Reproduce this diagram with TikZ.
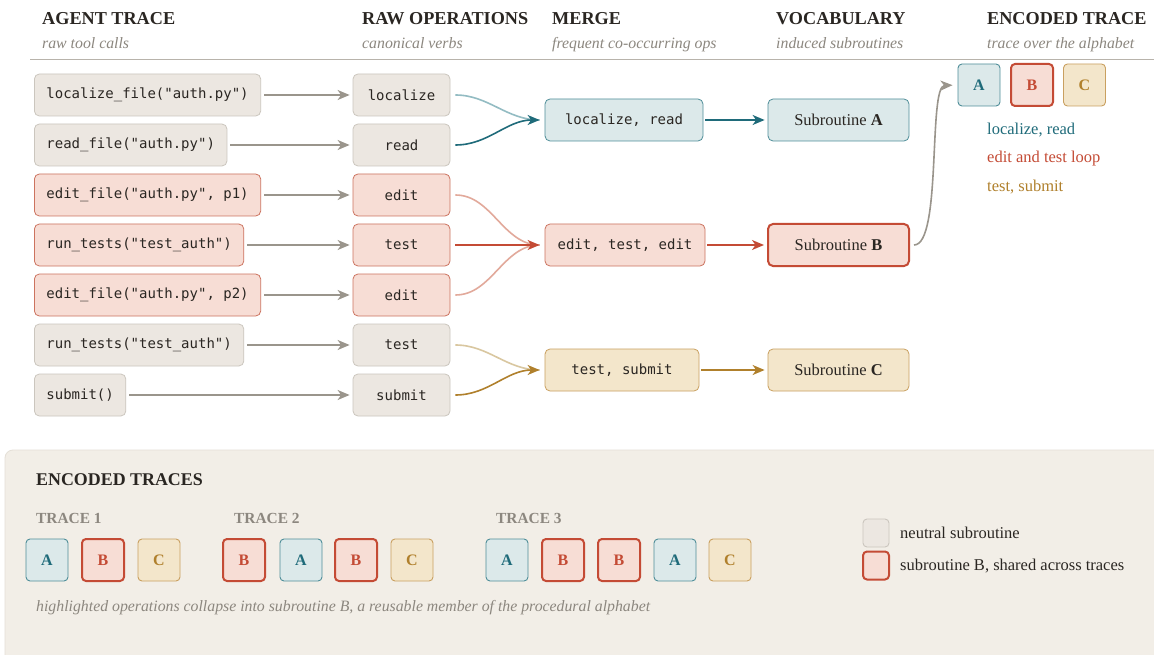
\documentclass[tikz,border=0pt]{standalone}
\usepackage{fontspec}
\setmainfont{Liberation Serif}
\setmonofont{DejaVu Sans Mono}
\usetikzlibrary{arrows.meta}
\definecolor{ink}{HTML}{2A2622}
\definecolor{subgray}{HTML}{8C877F}
\definecolor{rulegray}{HTML}{B8B3AB}
\definecolor{neuF}{HTML}{ECE7E1}
\definecolor{neuD}{HTML}{CBC6BE}
\definecolor{tealF}{HTML}{DCE9EA}
\definecolor{tealD}{HTML}{4F8E99}
\definecolor{tealT}{HTML}{1F6B7A}
\definecolor{tealL}{HTML}{93BCC3}
\definecolor{redF}{HTML}{F7DDD5}
\definecolor{redD}{HTML}{CC735F}
\definecolor{redT}{HTML}{C44B35}
\definecolor{redL}{HTML}{E2A99B}
\definecolor{tanF}{HTML}{F3E6CB}
\definecolor{tanD}{HTML}{C9A060}
\definecolor{tanT}{HTML}{B0802C}
\definecolor{tanL}{HTML}{D9C7A0}
\definecolor{arrgray}{HTML}{9A958C}
\definecolor{panelF}{HTML}{F2EEE7}
\definecolor{panelD}{HTML}{E4DFD7}
\begin{document}
\begin{tikzpicture}[x=1pt,y=-1pt,
  box/.style={draw, rounded corners=5pt, line width=0.8pt, minimum height=42pt,
    font=\ttfamily\fontsize{14}{16}\selectfont, text=ink, inner xsep=12pt, inner ysep=0pt},
  neu/.style={box, fill=neuF, draw=neuD},
  redbox/.style={box, fill=redF, draw=redD},
  tealbox/.style={box, fill=tealF, draw=tealD},
  tanbox/.style={box, fill=tanF, draw=tanD},
  call/.style={anchor=west},
  op/.style={minimum width=97pt},
  voc/.style={font=\fontsize{16.5}{19}\selectfont, minimum width=141pt},
  hdr/.style={anchor=base west, inner sep=0pt, text=ink, font=\bfseries\fontsize{18.2}{21}\selectfont},
  subt/.style={anchor=base west, inner sep=0pt, text=subgray, font=\itshape\fontsize{15.8}{18}\selectfont},
  garrow/.style={draw=arrgray, line width=1.4pt, -{Stealth[length=12pt,width=10pt,inset=3.5pt]}, shorten <=3pt, shorten >=3pt},
  curve/.style={line width=1.6pt, shorten <=5pt, shorten >=5pt},
  tip/.style={-{Stealth[length=12pt,width=10pt,inset=3.5pt]}},
  sq/.style={rounded corners=4pt, minimum size=42pt, inner sep=0pt, font=\bfseries\fontsize{16}{18}\selectfont},
  sqA/.style={sq, fill=tealF, draw=tealD, line width=0.9pt, text=tealT},
  sqB/.style={sq, fill=redF, draw=redT, line width=2pt, text=redT},
  sqC/.style={sq, fill=tanF, draw=tanD, line width=0.9pt, text=tanT},
  tlab/.style={anchor=base west, inner sep=0pt, text=subgray, font=\bfseries\fontsize{15.4}{18}\selectfont},
  lgd/.style={anchor=base west, inner sep=0pt, text=ink, font=\fontsize{16.5}{19}\selectfont},
  enc/.style={anchor=base west, inner sep=0pt, font=\fontsize{16.5}{19}\selectfont}
]
\useasboundingbox (0,0) rectangle (1154,655);
\fill[white] (0,0) rectangle (1154,655);

% headers
\node[hdr] (h1) at (42,25) {AGENT TRACE};
\node[subt] (s1) at (42,49) {raw tool calls};
\node[hdr] (h2) at (362,25) {RAW OPERATIONS};
\node[subt] (s2) at (362,49) {canonical verbs};
\node[hdr] (h3) at (552,25) {MERGE};
\node[subt] (s3) at (552,49) {frequent co-occurring ops};
\node[hdr] (h4) at (776,25) {VOCABULARY};
\node[subt] (s4) at (776,49) {induced subroutines};
\node[hdr] (h5) at (987,25) {ENCODED TRACE};
\node[subt] (s5) at (987,49) {trace over the alphabet};
\draw[rulegray, line width=1pt] (30,60) -- (1154,60);

% agent trace calls
\node[neu, call] (c1) at (34,95) {localize\_file("auth.py")};
\node[neu, call] (c2) at (34,145) {read\_file("auth.py")};
\node[redbox, call] (c3) at (34,195) {edit\_file("auth.py", p1)};
\node[redbox, call] (c4) at (34,245) {run\_tests("test\_auth")};
\node[redbox, call] (c5) at (34,295) {edit\_file("auth.py", p2)};
\node[neu, call] (c6) at (34,345) {run\_tests("test\_auth")};
\node[neu, call] (c7) at (34,395) {submit()};

% raw operations
\node[neu, op] (o1) at (401.5,95) {localize};
\node[neu, op] (o2) at (401.5,145) {read};
\node[redbox, op] (o3) at (401.5,195) {edit};
\node[redbox, op] (o4) at (401.5,245) {test};
\node[redbox, op] (o5) at (401.5,295) {edit};
\node[neu, op] (o6) at (401.5,345) {test};
\node[neu, op] (o7) at (401.5,395) {submit};

\foreach \i in {1,...,7} { \draw[garrow] (c\i.east) -- (o\i.west); }

% merge
\node[tealbox, minimum width=158pt] (m1) at (624,120) {localize, read};
\node[redbox, minimum width=160pt] (m2) at (625,245) {edit, test, edit};
\node[tanbox, minimum width=154pt] (m3) at (622,370) {test, submit};

\draw[curve, tealL] (o1.east) to[out=0,in=180] (m1.west);
\draw[curve, tealT, tip] (o2.east) to[out=0,in=180] (m1.west);
\draw[curve, redL] (o3.east) to[out=0,in=180] (m2.west);
\draw[curve, redL] (o5.east) to[out=0,in=180] (m2.west);
\draw[curve, redT, tip] (o4.east) -- (m2.west);
\draw[curve, tanL] (o6.east) to[out=0,in=180] (m3.west);
\draw[curve, tanT, tip] (o7.east) to[out=0,in=180] (m3.west);

% vocabulary
\node[tealbox, voc] (v1) at (838.5,120) {\rmfamily Subroutine \textbf{A}};
\node[redbox, voc, draw=redT, line width=2pt] (v2) at (838.5,245) {\rmfamily Subroutine \textbf{B}};
\node[tanbox, voc] (v3) at (838.5,370) {\rmfamily Subroutine \textbf{C}};

\draw[curve, tealT, tip, shorten <=2pt, shorten >=3pt] (m1.east) -- (v1.west);
\draw[curve, redT, tip, shorten <=2pt, shorten >=3pt] (m2.east) -- (v2.west);
\draw[curve, tanT, tip, shorten <=2pt, shorten >=3pt] (m3.east) -- (v3.west);

% encoded trace
\node[sqA] (eA) at (979,85) {A};
\node[sqB] (eB) at (1032,85) {B};
\node[sqC] (eC) at (1084.5,85) {C};
\draw[arrgray, line width=1.6pt, tip, shorten <=4pt, shorten >=5pt]
  (v2.east) .. controls (942,245) and (928,86) .. (eA.west);
\node[enc, text=tealT] (l1) at (987,135) {localize, read};
\node[enc, text=redT] (l2) at (987,163) {edit and test loop};
\node[enc, text=tanT] (l3) at (987,192) {test, submit};

% bottom panel
\draw[fill=panelF, draw=panelD, line width=0.8pt, rounded corners=8pt] (5,450) rectangle (1175,680);
\node[anchor=base west, inner sep=0pt, text=ink, font=\bfseries\fontsize{17.9}{21}\selectfont] (et) at (36,485) {ENCODED TRACES};
\node[tlab] (tr1) at (36,523) {TRACE 1};
\node[tlab] (tr2) at (234,523) {TRACE 2};
\node[tlab] (tr3) at (496,523) {TRACE 3};

\node[sqA] (a1) at (47,560) {A};
\node[sqB] (a2) at (103,560) {B};
\node[sqC] (a3) at (159,560) {C};

\node[sqB] (b1) at (244,560) {B};
\node[sqA] (b2) at (301,560) {A};
\node[sqB] (b3) at (356,560) {B};
\node[sqC] (b4) at (412,560) {C};

\node[sqA] (d1) at (507,560) {A};
\node[sqB] (d2) at (563,560) {B};
\node[sqB] (d3) at (619,560) {B};
\node[sqA] (d4) at (675,560) {A};
\node[sqC] (d5) at (730,560) {C};

\node[anchor=base west, inner sep=0pt, text=subgray, font=\itshape\fontsize{15.8}{18}\selectfont] (cap) at (36,611)
  {highlighted operations collapse into subroutine B, a reusable member of the procedural alphabet};

% legend
\node[rounded corners=4pt, fill=neuF, draw=neuD, line width=0.9pt, minimum width=26pt, minimum height=28pt, inner sep=0pt] (lg1) at (876,533) {};
\node[lgd] (lt1) at (900,538) {neutral subroutine};
\node[rounded corners=4pt, fill=redF, draw=redT, line width=2pt, minimum width=26pt, minimum height=28pt, inner sep=0pt] (lg2) at (876,565.5) {};
\node[lgd] (lt2) at (900,570) {subroutine B, shared across traces};
\end{tikzpicture}
\end{document}
